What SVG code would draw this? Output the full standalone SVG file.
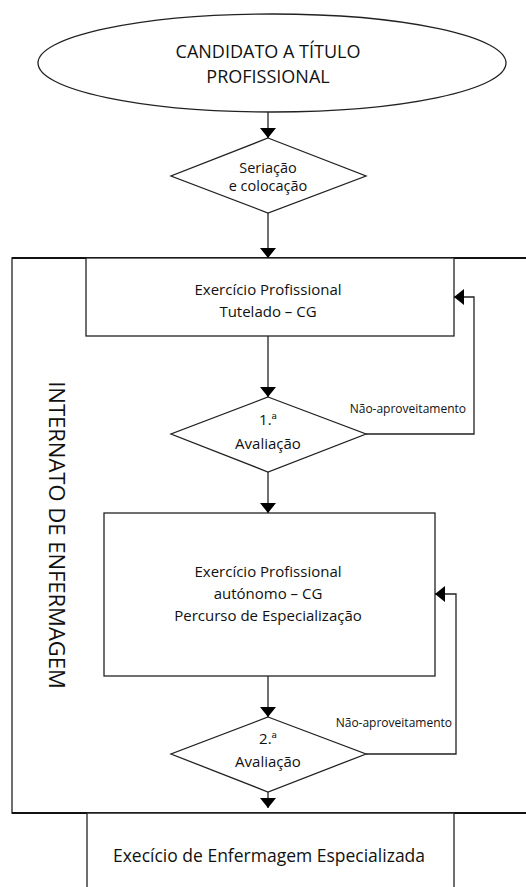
<svg xmlns="http://www.w3.org/2000/svg" width="526" height="887" viewBox="0 0 526 887">
<style>
.s{fill:none;stroke:#222;stroke-width:1.3}
.n{fill:#fff;stroke:#222;stroke-width:1.3}
.t{font-family:"Open Sans","Noto Sans",sans-serif;fill:#111;text-anchor:middle}
.c{fill:none;stroke:#222;stroke-width:1.3}
</style>
<defs>
<marker id="ah" viewBox="0 0 10 16" refX="10" refY="8" markerWidth="10" markerHeight="16" markerUnits="userSpaceOnUse" orient="auto">
<path d="M0,0 L10,8 L0,16 z" fill="#000"/>
</marker>
</defs>
<rect width="526" height="887" fill="#fff"/>
<g id="internato">
<path d="M530,258 H12 V813 H530" class="s"/>
<line x1="12" y1="258" x2="530" y2="258" stroke="#111" stroke-width="2"/>
<line x1="12" y1="813" x2="530" y2="813" stroke="#111" stroke-width="2"/>
<text class="t" transform="translate(49,535) rotate(90)" style="font-size:22px">INTERNATO DE ENFERMAGEM</text>
</g>
<g id="candidato">
<ellipse cx="272" cy="63" rx="234" ry="49" class="n"/>
<text class="t" x="268" y="58" style="font-size:18px">CANDIDATO A TÍTULO</text>
<text class="t" x="268" y="83" style="font-size:18px">PROFISSIONAL</text>
</g>
<g id="seriacao">
<polygon points="268,138 366,176 268,213 171,176" class="n"/>
<text class="t" x="268" y="173" style="font-size:14.5px">Seriação</text>
<text class="t" x="268" y="191" style="font-size:14.5px">e colocação</text>
</g>
<g id="tutelado">
<rect x="86" y="258" width="368" height="78" class="n"/>
<text class="t" x="268" y="295" style="font-size:15px">Exercício Profissional</text>
<text class="t" x="268" y="317" style="font-size:15px">Tutelado – CG</text>
</g>
<g id="avaliacao1">
<polygon points="268,397 366,434 268,472 171,434" class="n"/>
<text class="t" x="268" y="425" style="font-size:15px">1.ª</text>
<text class="t" x="268" y="449" style="font-size:15px">Avaliação</text>
</g>
<g id="autonomo">
<rect x="104" y="513" width="331" height="163" class="n"/>
<text class="t" x="268" y="577" style="font-size:15px">Exercício Profissional</text>
<text class="t" x="268" y="599" style="font-size:15px">autónomo – CG</text>
<text class="t" x="268" y="621" style="font-size:15px">Percurso de Especialização</text>
</g>
<g id="avaliacao2">
<polygon points="268,717 366,754 268,792 171,754" class="n"/>
<text class="t" x="268" y="744" style="font-size:15px">2.ª</text>
<text class="t" x="268" y="767" style="font-size:15px">Avaliação</text>
</g>
<g id="especializada">
<path d="M87,887 V813 H454 V887" class="n"/>
<text class="t" x="269" y="862" style="font-size:17.5px">Execício de Enfermagem Especializada</text>
</g>
<g id="connectors">
<line x1="268" y1="112" x2="268" y2="138" class="c" marker-end="url(#ah)"/>
<line x1="268" y1="213" x2="268" y2="258" class="c" marker-end="url(#ah)"/>
<line x1="268" y1="336" x2="268" y2="397" class="c" marker-end="url(#ah)"/>
<polyline points="366,434 474,434 474,297 454,297" class="c" marker-end="url(#ah)"/>
<line x1="268" y1="472" x2="268" y2="513" class="c" marker-end="url(#ah)"/>
<line x1="268" y1="676" x2="268" y2="717" class="c" marker-end="url(#ah)"/>
<polyline points="366,754 456,754 456,594 435,594" class="c" marker-end="url(#ah)"/>
<line x1="268" y1="792" x2="268" y2="808" class="c" marker-end="url(#ah)"/>
<text class="t" x="466" y="413" style="font-size:12px;text-anchor:end">Não-aproveitamento</text>
<text class="t" x="452" y="727" style="font-size:12px;text-anchor:end">Não-aproveitamento</text>
</g>
</svg>
